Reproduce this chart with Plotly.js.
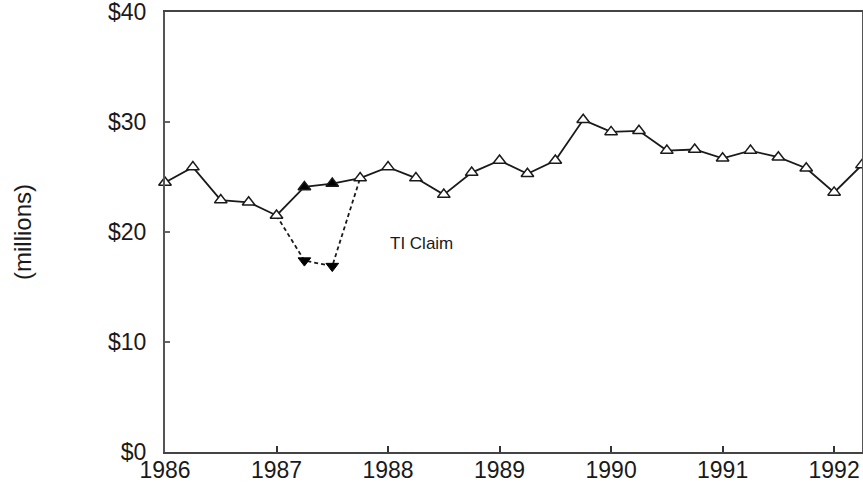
<!DOCTYPE html>
<html>
<head>
<meta charset="utf-8">
<script src="https://cdn.plot.ly/plotly-3.0.1.min.js"></script>
<style>html,body{margin:0;padding:0;background:#fff;}#chart{width:863px;height:500px;}</style>
</head>
<body>
<div id="chart"></div>
<script>
// Quarterly time points (years)
const quarters = [1986.0,1986.25,1986.5,1986.75,1987.0,1987.25,1987.5,1987.75,
  1988.0,1988.25,1988.5,1988.75,1989.0,1989.25,1989.5,1989.75,
  1990.0,1990.25,1990.5,1990.75,1991.0,1991.25,1991.5,1991.75,1992.0,1992.25];
// Main series values ($ millions)
const values = [24.5,25.9,22.9,22.7,21.5,24.1,24.4,24.9,
  25.9,24.9,23.4,25.4,26.5,25.3,26.5,30.2,
  29.1,29.2,27.4,27.5,26.7,27.4,26.8,25.8,23.6,26.1];
// Which points are drawn filled
const filled = [0,0,0,0,0,1,1,0, 0,0,0,0,0,0,0,0, 0,0,0,0,0,0,0,0,0,0];
// TI claim alternative path
const claimX = [1987.0,1987.25,1987.5,1987.75];
const claimY = [21.5,17.4,16.9,24.9];
// TI claim points drawn with a marker
const claimPtX = [1987.25,1987.5];
const claimPtY = [17.4,16.9];
const claimLabel = "TI Claim";
const yTicks = [0,10,20,30,40];
const yTickText = ["$0","$10","$20","$30","$40"];
const xTicks = [1986,1987,1988,1989,1990,1991,1992];
const xTickText = ["1986","1987","1988","1989","1990","1991","1992"];
const yTitle = "(millions)";

const font = "Liberation Sans, Arial, Helvetica, sans-serif";

const traces = [
  {
    x: claimX, y: claimY, type: "scatter", mode: "lines",
    line: {color: "#1a1a1a", width: 1.8, dash: "4px,3px"},
    hoverinfo: "skip", showlegend: false
  },
  {
    x: claimPtX, y: claimPtY, type: "scatter", mode: "markers",
    marker: {symbol: "triangle-down", color: "#000", size: 11,
             line: {width: 1, color: "#000"}},
    showlegend: false
  },
  {
    x: quarters, y: values, type: "scatter", mode: "lines+markers",
    line: {color: "#1a1a1a", width: 1.8},
    marker: {symbol: "triangle-up", size: 11,
             color: filled.map(f => f ? "#000" : "#fff"),
             line: {color: "#1a1a1a", width: 1.5}},
    cliponaxis: false, showlegend: false
  }
];

const layout = {
  width: 863, height: 500,
  margin: {l: 165, r: 1, t: 12, b: 48},
  paper_bgcolor: "#fff", plot_bgcolor: "#fff",
  font: {family: font, color: "#1a1a1a", size: 23},
  xaxis: {
    range: [1986, 1992.25], tickvals: xTicks, ticktext: xTickText,
    ticks: "inside", ticklen: 6, tickwidth: 2, tickcolor: "#333",
    showline: true, linecolor: "#444", linewidth: 2, mirror: true,
    showgrid: false, zeroline: false, tickfont: {size: 23, family: font},
    ticklabelstandoff: -4, ticklabeloverflow: "allow"
  },
  yaxis: {
    range: [0, 40], tickvals: yTicks, ticktext: yTickText,
    ticks: "inside", ticklen: 5, tickwidth: 1.5, tickcolor: "#666",
    showline: true, linecolor: "#555", linewidth: 2, mirror: true,
    showgrid: false, zeroline: false, tickfont: {size: 23, family: font},
    ticklabelstandoff: 12, ticklabeloverflow: "allow"
  },
  annotations: [
    {
      x: 1988.0, y: 19, xref: "x", yref: "y", text: claimLabel, showarrow: false,
      xanchor: "left", yanchor: "middle", font: {size: 17, family: font, color: "#1a1a1a"}
    },
    {
      x: 0, y: 0.5, xref: "paper", yref: "paper", xshift: -143, text: yTitle,
      showarrow: false, textangle: -90, xanchor: "center", yanchor: "middle",
      font: {size: 24, family: font, color: "#1a1a1a"}
    }
  ]
};

Plotly.newPlot("chart", traces, layout, {displayModeBar: false, staticPlot: true});
</script>
</body>
</html>
